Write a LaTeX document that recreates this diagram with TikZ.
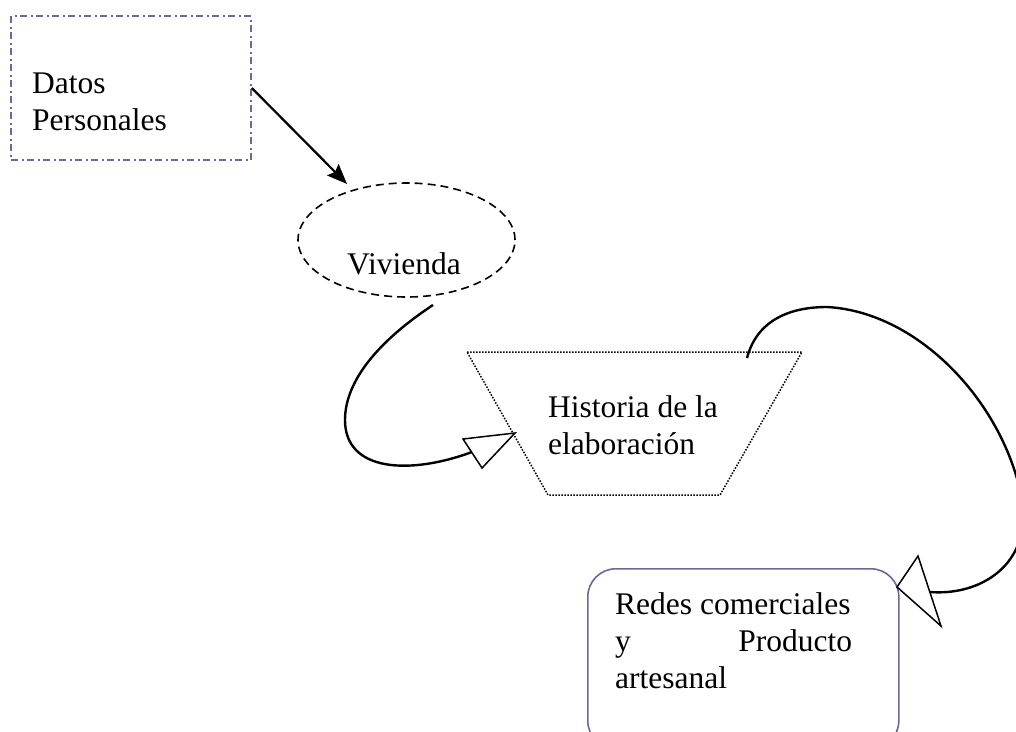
\documentclass[tikz,border=0pt]{standalone}
\usepackage{fontspec}
\setmainfont{Liberation Serif}
\usetikzlibrary{shapes.geometric,arrows.meta}
\definecolor{boxblue}{RGB}{104,104,158}
\begin{document}
\begin{tikzpicture}[x=1pt,y=-1pt,
  txt/.style={anchor=base west,inner sep=0pt,align=left,font=\fontsize{31.5}{37}\selectfont},
  dashdotbox/.style={draw=boxblue,line width=1.6pt,dash pattern=on 7pt off 3.5pt on 2pt off 3.5pt,inner sep=0pt},
  dashell/.style={ellipse,draw,line width=1.6pt,dash pattern=on 8pt off 5pt,inner sep=0pt},
  dotline/.style={line width=1.5pt,dash pattern=on 1.5pt off 1.5pt},
  roundbox/.style={draw=boxblue,line width=1.6pt,rounded corners=28pt,inner sep=0pt},
  curve/.style={line width=2.4pt},
  openhead/.style={draw=black,fill=white,line width=1.5pt,line join=miter}]
\useasboundingbox (0,0) rectangle (1016,731);
\clip (0,0) rectangle (1016,731);
% Datos Personales
\node[dashdotbox,minimum width=240pt,minimum height=144pt] (datos) at (131,88) {};
\node[txt] (datos-t) at (32,130) {Datos\\Personales};
% Vivienda
\node[dashell,minimum width=217pt,minimum height=114pt] (viv) at (406.5,240) {};
\node[txt] (viv-t) at (347,274) {Vivienda};
% Historia de la elaboracion
\coordinate (hist) at (634,423);
\draw[dotline] (467,352) -- (802,352) -- (720,495) -- (548,495) -- cycle;
\node[txt] (hist-t) at (548,454) {Historia de la\\elaboración};
% Redes comerciales
\node[roundbox,anchor=north west,minimum width=311pt,minimum height=180pt] (redes) at (587,568) {};
\node[txt] (redes-t) at (615,688) {Redes comerciales\\\makebox[237pt][s]{y Producto}\\artesanal};
% connectors
\coordinate (a1e) at (347,184);
\draw[line width=2.2pt,-{Stealth[length=20pt,width=16pt,inset=3pt]}] (datos.east) -- (a1e);
\coordinate (c2s) at (433,305);
\coordinate (c2e) at (472,452);
\draw[curve] (c2s) .. controls (380,340) and (345,380) .. (345,420)
  .. controls (345,472) and (410,475) .. (c2e);
\draw[openhead] (515,433) -- (463,439) -- (482,468) -- cycle;
\coordinate (c3s) at (747,358);
\coordinate (c3e) at (930,592);
\draw[curve] (c3s) .. controls (757,320) and (790,307) .. (827,307)
  .. controls (920,312) and (1005,405) .. (1022,500)
  .. controls (1032,565) and (980,596) .. (c3e);
\draw[openhead] (897,587) -- (918,556) -- (941,626) -- cycle;
\end{tikzpicture}
\end{document}
